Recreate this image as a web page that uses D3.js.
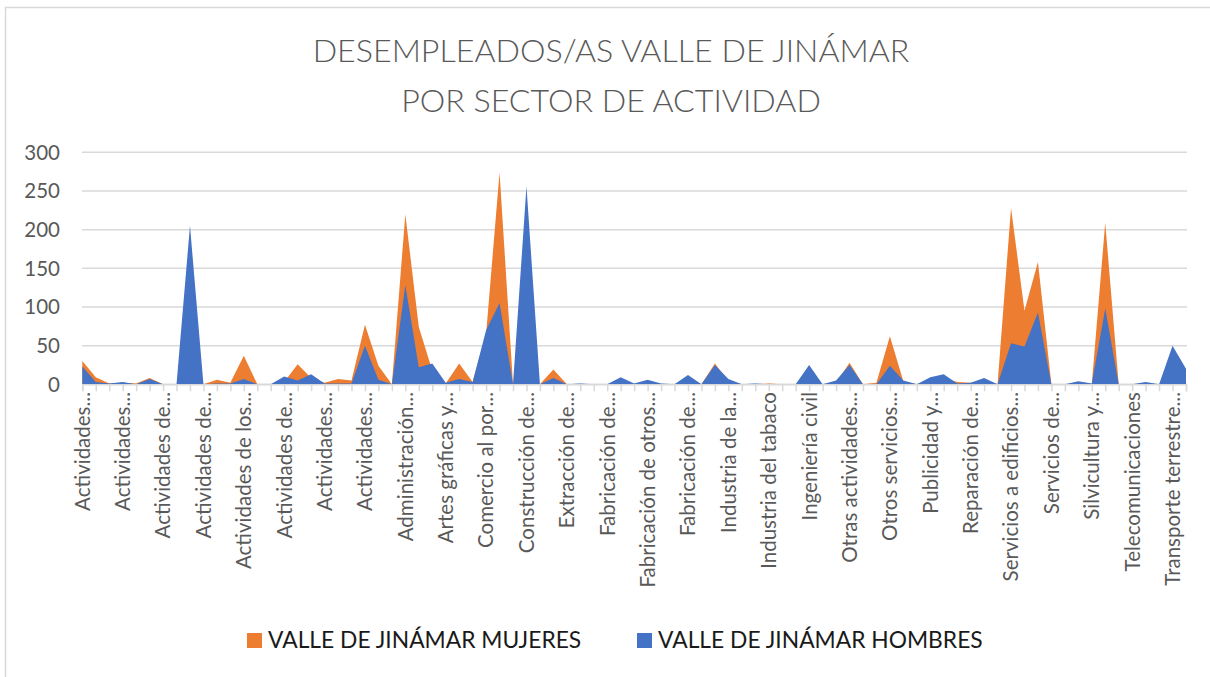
<!DOCTYPE html>
<html>
<head>
<meta charset="utf-8">
<script src="https://cdn.jsdelivr.net/npm/d3@7"></script>
<style>
  html, body { margin: 0; padding: 0; background: #fff; }
  svg { display: block; font-family: Lato, "Open Sans", sans-serif; }
</style>
</head>
<body>
<div id="chart"></div>
<script>
// sectores de actividad (orden alfabético, como en la hoja)
const categories = [
  "Actividades administrativas de oficina y otras actividades auxiliares a las empresas",
  "Actividades anexas a los servicios financieros y a los seguros",
  "Actividades asociativas",
  "Actividades cinematográficas, de vídeo y de programas de televisión",
  "Actividades de agencias de viajes y operadores turísticos",
  "Actividades de alquiler",
  "Actividades de apoyo a las industrias extractivas",
  "Actividades de bibliotecas, archivos, museos y otras actividades culturales",
  "Actividades de construcción especializada",
  "Actividades de creación, artísticas y espectáculos",
  "Actividades de juegos de azar y apuestas",
  "Actividades de las sedes centrales; consultoría de gestión empresarial",
  "Actividades de los hogares como empleadores de personal doméstico",
  "Actividades de programación y emisión de radio y televisión",
  "Actividades de seguridad e investigación",
  "Actividades de servicios financieros, excepto seguros y fondos de pensiones",
  "Actividades de servicios sociales sin alojamiento",
  "Actividades deportivas, recreativas y de entretenimiento",
  "Actividades inmobiliarias",
  "Actividades jurídicas y de contabilidad",
  "Actividades postales y de correos",
  "Actividades relacionadas con el empleo",
  "Actividades sanitarias",
  "Actividades veterinarias",
  "Administración Pública y defensa; Seguridad Social obligatoria",
  "Agricultura, ganadería, caza y servicios relacionados con las mismas",
  "Almacenamiento y actividades anexas al transporte",
  "Artes gráficas y reproducción de soportes grabados",
  "Asistencia en establecimientos residenciales",
  "Captación, depuración y distribución de agua",
  "Comercio al por mayor e intermediarios del comercio",
  "Comercio al por menor, excepto de vehículos de motor y motocicletas",
  "Confección de prendas de vestir",
  "Construcción de edificios",
  "Coquerías y refino de petróleo",
  "Educación",
  "Extracción de minerales metálicos",
  "Fabricación de bebidas",
  "Fabricación de equipos eléctricos",
  "Fabricación de maquinaria y equipo n.c.o.p.",
  "Fabricación de muebles",
  "Fabricación de otro material de transporte",
  "Fabricación de otros productos minerales no metálicos",
  "Fabricación de productos de caucho y plásticos",
  "Fabricación de productos farmacéuticos",
  "Fabricación de productos metálicos, excepto maquinaria y equipo",
  "Fabricación de vehículos de motor, remolques y semirremolques",
  "Industria de la alimentación",
  "Industria de la madera y del corcho",
  "Industria del cuero y del calzado",
  "Industria del papel",
  "Industria del tabaco",
  "Industria química",
  "Industria textil",
  "Ingeniería civil",
  "Investigación y desarrollo",
  "Metalurgia",
  "Otras actividades profesionales, científicas y técnicas",
  "Otras industrias extractivas",
  "Otras industrias manufactureras",
  "Otros servicios personales",
  "Pesca y acuicultura",
  "Programación, consultoría y otras actividades relacionadas con la informática",
  "Publicidad y estudios de mercado",
  "Recogida, tratamiento y eliminación de residuos",
  "Recogida y tratamiento de aguas residuales",
  "Reparación de ordenadores, efectos personales y artículos de uso doméstico",
  "Reparación e instalación de maquinaria y equipo",
  "Seguros, reaseguros y fondos de pensiones",
  "Servicios a edificios y actividades de jardinería",
  "Servicios de alojamiento",
  "Servicios de comidas y bebidas",
  "Servicios de información",
  "Servicios financieros",
  "Servicios técnicos de arquitectura e ingeniería",
  "Silvicultura y explotación forestal",
  "Sin empleo anterior",
  "Suministro de energía eléctrica, gas, vapor y aire acondicionado",
  "Telecomunicaciones",
  "Transporte aéreo",
  "Transporte marítimo y por vías navegables interiores",
  "Transporte terrestre y por tubería",
  "Venta y reparación de vehículos de motor y motocicletas"
]

// etiquetas que Excel deja ver (una de cada tres, recortadas)
const tickLabels = [
  "Actividades...", "Actividades...", "Actividades de...", "Actividades de...",
  "Actividades de los...", "Actividades de...", "Actividades...", "Actividades...",
  "Administración...", "Artes gráficas y...", "Comercio al por...", "Construcción de...",
  "Extracción de...", "Fabricación de...", "Fabricación de otros...", "Fabricación de...",
  "Industria de la...", "Industria del tabaco", "Ingeniería civil", "Otras actividades...",
  "Otros servicios...", "Publicidad y...", "Reparación de...", "Servicios a edificios...",
  "Servicios de...", "Silvicultura y...", "Telecomunicaciones", "Transporte terrestre..."
]
const labelStep = 3

const mujeres = [
  30, 9, 1, 2, 1, 8, 0, 0, 3, 0,
  6, 2, 37, 0, 0, 3, 26, 8, 2, 7,
  5, 77, 24, 0, 220, 74, 18, 1, 27, 3,
  65, 274, 0, 5, 0, 19, 0, 0, 0, 0,
  4, 0, 3, 0, 0, 5, 0, 27, 4, 0,
  0, 1, 0, 0, 3, 0, 2, 28, 0, 2,
  62, 4, 0, 5, 8, 3, 2, 4, 0, 228,
  95, 158, 0, 0, 1, 0, 209, 0, 0, 1,
  0, 4, 2
]

const hombres = [
  23, 3, 1, 3, 0, 7, 0, 0, 205, 0,
  1, 1, 7, 0, 0, 10, 5, 13, 1, 1,
  1, 50, 6, 0, 128, 22, 27, 2, 7, 3,
  70, 105, 0, 256, 0, 8, 0, 1, 0, 0,
  9, 1, 6, 1, 0, 12, 0, 25, 7, 0,
  1, 0, 0, 0, 25, 0, 5, 25, 0, 0,
  24, 5, 0, 9, 13, 1, 2, 8, 0, 53,
  49, 93, 0, 0, 4, 1, 98, 0, 0, 3,
  0, 50, 20
]

const yTicks = [0, 50, 100, 150, 200, 250, 300]

const series = [
  { name: "VALLE DE JINÁMAR MUJERES", values: mujeres, color: "#ED7D31" },
  { name: "VALLE DE JINÁMAR HOMBRES", values: hombres, color: "#4472C4" }
]

const W = 1210, H = 677
const svg = d3.select("#chart").append("svg")
  .attr("width", W)
  .attr("height", H)

// marco del gráfico
svg.append("rect")
  .attr("x", 5.5)
  .attr("y", 7.5)
  .attr("width", W + 20)
  .attr("height", H + 20)
  .attr("fill", "#fff")
  .attr("stroke", "#d9d9d9")
  .attr("stroke-width", 1.5)

// titulo
const title = svg.append("text")
  .attr("text-anchor", "middle")
  .attr("fill", "#595959")
  .attr("font-size", 32.2)
  .attr("font-weight", 300)
title.append("tspan").attr("x", 611).attr("y", 62).text("DESEMPLEADOS/AS VALLE DE JINÁMAR")
title.append("tspan").attr("x", 611).attr("y", 112).text("POR SECTOR DE ACTIVIDAD")

const x = d3.scalePoint()
  .domain(d3.range(categories.length))
  .range([82.3, 1186])

const y = d3.scaleLinear()
  .domain([0, 300])
  .range([384.3, 152.3])

// rejilla
svg.append("g")
  .selectAll("line")
  .data(yTicks)
  .join("line")
  .attr("x1", 82)
  .attr("x2", 1187)
  .attr("y1", d => y(d))
  .attr("y2", d => y(d))
  .attr("stroke", "#d9d9d9")
  .attr("stroke-width", 1.5)

// etiquetas del eje y
svg.append("g")
  .selectAll("text")
  .data(yTicks)
  .join("text")
  .attr("x", 60)
  .attr("y", d => y(d))
  .attr("dy", "0.36em")
  .attr("text-anchor", "end")
  .attr("fill", "#595959")
  .attr("font-size", 20.5)
  .text(d => d)

// areas (mujeres detrás, hombres delante)
const area = vals => d3.area()
  .x((d, i) => x(i))
  .y0(y(0))
  .y1(d => y(d))(vals)

svg.append("g")
  .selectAll("path")
  .data(series)
  .join("path")
  .attr("d", d => area(d.values))
  .attr("fill", d => d.color)

// eje x
const xAxis = d3.axisBottom(x)
  .tickSize(7)
  .tickFormat("")
const gx = svg.append("g")
  .attr("transform", `translate(0, ${y(0)})`)
  .call(xAxis)
gx.select(".domain").attr("stroke", "#d9d9d9").attr("stroke-width", 1.5)
gx.selectAll(".tick line").attr("stroke", "#d9d9d9").attr("stroke-width", 1.5)

svg.append("g")
  .selectAll("text")
  .data(tickLabels)
  .join("text")
  .attr("transform", (d, i) => `translate(${x(i * labelStep)}, 392) rotate(-90)`)
  .attr("dy", "0.36em")
  .attr("text-anchor", "end")
  .attr("fill", "#595959")
  .attr("font-size", 20.5)
  .text(d => d)

// leyenda
const legendX = [247, 637]
const legend = svg.append("g")
  .selectAll("g")
  .data(series)
  .join("g")
  .attr("transform", (d, i) => `translate(${legendX[i]}, 633)`)
legend.append("rect")
  .attr("width", 15)
  .attr("height", 15)
  .attr("fill", d => d.color)
legend.append("text")
  .attr("x", 21)
  .attr("y", 15)
  .attr("fill", "#1a1a1a")
  .attr("font-size", 22.8)
  .text(d => d.name)
</script>
</body>
</html>
